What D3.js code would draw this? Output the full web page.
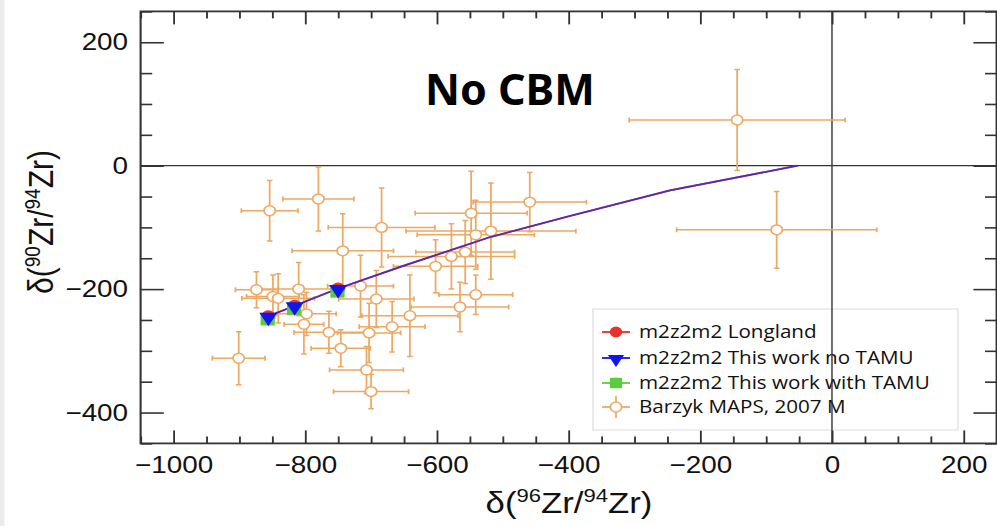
<!DOCTYPE html>
<html>
<head>
<meta charset="utf-8">
<script src="https://cdn.jsdelivr.net/npm/d3@7"></script>
<style>
  html, body { margin: 0; padding: 0; background: #fff; }
  svg { display: block; }
  .tick text { font-family: "Liberation Sans", Arial, sans-serif; font-size: 24px; fill: #111; }
  .legend text { font-family: "Open Sans", sans-serif; font-size: 17.8px; fill: #111; }
</style>
</head>
<body>
<svg id="chart" width="997" height="526"></svg>
<script>
// Barzyk MAPS 2007 grains
const barzykX    = [-854, -780, -684, -459, -548, -518, -541, -743, -578, -557, -602, -541, -565, -641, -668,
                    -692, -703, -716, -810, -874, -849, -841, -901, -764, -802, -798, -746, -707, -700, -144, -84]
const barzykY    = [-73, -54, -100, -59, -77, -106, -112, -138, -147, -140, -163, -209, -229, -243, -261,
                    -216, -271, -195, -200, -201, -212, -215, -312, -270, -257, -240, -296, -331, -366, 74, -104]
const barzykXErr = [43, 54, 81, 86, 85, 129, 89, 77, 96, 75, 64, 56, 74, 73, 50,
                    57, 48, 50, 58, 32, 40, 55, 40, 53, 30, 45, 45, 56, 57, 164, 152]
const barzykYErr = [49, 52, 64, 48, 68, 78, 56, 60, 53, 51, 43, 32, 40, 66, 41,
                    46, 48, 50, 43, 29, 35, 40, 43, 34, 48, 35, 30, 38, 28, 82, 62]

// m2z2m2 model points
const modelX     = [-856, -816, -750]
const longlandY  = [-244, -227, -199]
const noTamuY    = [-244, -227, -199]
const withTamuX  = [-857, -817, -751]
const withTamuY  = [-249, -232, -204]

// model curve
const curveX = [-856, -816, -750, -650, -520, -400, -246, -52]
const curveY = [-244, -227, -199, -162, -116, -82, -40, 0]

const xTicks = [-1000, -800, -600, -400, -200, 0, 200]
const yTicks = [-400, -200, 0, 200]

const legendLabels = ["m2z2m2 Longland", "m2z2m2 This work no TAMU", "m2z2m2 This work with TAMU", "Barzyk MAPS, 2007 M"]

const SX = 1.16   // the figure is stretched horizontally
const orange = '#eea862'
const red = '#e8322b'
const blue = '#1414f0'
const green = '#5ccd3a'
const axisColor = '#333'

const svg = d3.select('#chart')

// grey strip on the left edge
svg.append('rect').attr('x', 0).attr('y', 0).attr('width', 4.5).attr('height', 526).attr('fill', '#ebebeb')

const g = svg.append('g').attr('transform', `scale(${SX},1)`)

const x = d3.scaleLinear().domain([-1050, 250]).range([140.6 / SX, 996.6 / SX])
const y = d3.scaleLinear().domain([-450, 250]).range([443.4, 11.4])

const [x0, x1] = x.range()
const [y0, y1] = [y(250), y(-450)]

const minorX = d3.range(-1050, 251, 50).filter(v => !xTicks.includes(v))
const minorY = d3.range(-450, 251, 50).filter(v => !yTicks.includes(v))

// axes: major + minor ticks, all inward
const axG = g.append('g')
axG.append('g').attr('transform', `translate(0,${y1})`)
  .call(d3.axisBottom(x).tickValues(xTicks).tickSizeInner(-13).tickSizeOuter(0).tickPadding(12.6)
    .tickFormat(d => d3.format('d')(d).replace('-', '\u2212')))
axG.append('g').attr('transform', `translate(0,${y1})`)
  .call(d3.axisBottom(x).tickValues(minorX).tickSizeInner(-7).tickSizeOuter(0).tickFormat(''))
axG.append('g').attr('transform', `translate(0,${y0})`)
  .call(d3.axisTop(x).tickValues(xTicks).tickSizeInner(-13).tickSizeOuter(0).tickFormat(''))
axG.append('g').attr('transform', `translate(0,${y0})`)
  .call(d3.axisTop(x).tickValues(minorX).tickSizeInner(-7).tickSizeOuter(0).tickFormat(''))
axG.append('g').attr('transform', `translate(${x0},0)`)
  .call(d3.axisLeft(y).tickValues(yTicks).tickSizeInner(-20).tickSizeOuter(0).tickPadding(10.8)
    .tickFormat(d => d3.format('d')(d).replace('-', '\u2212')))
axG.append('g').attr('transform', `translate(${x0},0)`)
  .call(d3.axisLeft(y).tickValues(minorY).tickSizeInner(-10).tickSizeOuter(0).tickFormat(''))
axG.append('g').attr('transform', `translate(${x1},0)`)
  .call(d3.axisRight(y).tickValues(yTicks).tickSizeInner(-20).tickSizeOuter(0).tickFormat(''))
axG.append('g').attr('transform', `translate(${x1},0)`)
  .call(d3.axisRight(y).tickValues(minorY).tickSizeInner(-10).tickSizeOuter(0).tickFormat(''))

axG.selectAll('.domain').remove()
axG.selectAll('.tick line').attr('stroke', axisColor).attr('stroke-width', 1.6)

// legend box (drawn before zero lines, the x=0 line shows through it)
const legend = g.append('g').attr('class', 'legend')
legend.append('rect')
  .attr('x', 593 / SX).attr('y', 309).attr('width', (958 - 593) / SX).attr('height', 121)
  .attr('fill', '#fff').attr('stroke', '#dcdcdc').attr('stroke-width', 1)

// zero lines
g.append('line').attr('x1', x(0)).attr('x2', x(0)).attr('y1', y0).attr('y2', y1)
  .attr('stroke', axisColor).attr('stroke-width', 1.2)
g.append('line').attr('x1', x0).attr('x2', x1).attr('y1', y(0)).attr('y2', y(0))
  .attr('stroke', axisColor).attr('stroke-width', 1.2)

// frame
g.append('rect').attr('x', x0).attr('y', y0).attr('width', x1 - x0).attr('height', y1 - y0)
  .attr('fill', 'none').attr('stroke', axisColor).attr('stroke-width', 1.8)

// Barzyk data with error bars
const barzyk = barzykX.map((v, i) => ({x: v, y: barzykY[i], ex: barzykXErr[i], ey: barzykYErr[i]}))
const cap = 2.4
const eb = g.append('g').attr('stroke', orange).attr('stroke-width', 1.5).attr('fill', 'none')
const ebG = eb.selectAll('g').data(barzyk).join('g')
ebG.append('path').attr('d', d => {
  const cx = x(d.x), cy = y(d.y)
  const xl = x(d.x - d.ex), xr = x(d.x + d.ex), yt = y(d.y + d.ey), yb = y(d.y - d.ey)
  return `M${xl},${cy}H${xr}M${cx},${yt}V${yb}` +
    `M${xl},${cy - cap}V${cy + cap}M${xr},${cy - cap}V${cy + cap}` +
    `M${cx - cap},${yt}H${cx + cap}M${cx - cap},${yb}H${cx + cap}`
})
g.append('g').selectAll('circle').data(barzyk).join('circle')
  .attr('cx', d => x(d.x)).attr('cy', d => y(d.y)).attr('r', 4.9)
  .attr('fill', '#fff').attr('stroke', orange).attr('stroke-width', 1.5)

// model curve (red under blue gives the blue-violet look)
const line = d3.line().x(d => x(d[0])).y(d => y(d[1]))
const curve = curveX.map((v, i) => [v, curveY[i]])
g.append('path').attr('d', line(curve)).attr('fill', 'none').attr('stroke', red).attr('stroke-width', 1.8)
g.append('path').attr('d', line(curve)).attr('fill', 'none').attr('stroke', '#2a2ad8').attr('stroke-width', 1.7).attr('opacity', 0.82)

// markers
const squareSym = d3.symbol(d3.symbolSquare, 150)
const triSym = d3.symbol(d3.symbolTriangle, 105)
g.append('g').selectAll('circle').data(modelX.map((v, i) => [v, longlandY[i]])).join('circle')
  .attr('cx', d => x(d[0])).attr('cy', d => y(d[1])).attr('r', 6).attr('fill', red)
g.append('g').selectAll('path').data(withTamuX.map((v, i) => [v, withTamuY[i]])).join('path')
  .attr('d', squareSym).attr('transform', d => `translate(${x(d[0])},${y(d[1])})`).attr('fill', green)
g.append('g').selectAll('path').data(modelX.map((v, i) => [v, noTamuY[i]])).join('path')
  .attr('d', triSym).attr('transform', d => `translate(${x(d[0])},${y(d[1]) + 1}) rotate(180)`).attr('fill', blue)

// legend entries
const legRows = [332, 358, 383, 407]
const lx0 = 602 / SX, lx1 = 630 / SX, lxm = 616 / SX
const colors = [red, blue, green, orange]
legRows.forEach((ry, i) => {
  legend.append('line').attr('x1', lx0).attr('x2', lx1).attr('y1', ry).attr('y2', ry)
    .attr('stroke', colors[i]).attr('stroke-width', 1.8)
  if (i === 0) legend.append('circle').attr('cx', lxm).attr('cy', ry).attr('r', 5.4).attr('fill', red)
  if (i === 1) legend.append('path').attr('d', d3.symbol(d3.symbolTriangle, 85)).attr('transform', `translate(${lxm},${ry + 1}) rotate(180)`).attr('fill', blue)
  if (i === 2) legend.append('path').attr('d', d3.symbol(d3.symbolSquare, 110)).attr('transform', `translate(${lxm},${ry})`).attr('fill', green)
  if (i === 3) {
    legend.append('line').attr('x1', lxm).attr('x2', lxm).attr('y1', ry - 11).attr('y2', ry + 11)
      .attr('stroke', orange).attr('stroke-width', 1.5)
    legend.append('circle').attr('cx', lxm).attr('cy', ry).attr('r', 4.9)
      .attr('fill', '#fff').attr('stroke', orange).attr('stroke-width', 1.5)
  }
  legend.append('text').attr('x', 639 / SX).attr('y', ry).attr('dy', '0.35em').text(legendLabels[i])
})

// axis titles
const titleFont = '"Liberation Sans", Arial, sans-serif'
const xt = g.append('text').attr('x', 569 / SX).attr('y', 513).attr('text-anchor', 'middle')
  .style('font-family', titleFont).style('font-size', '30px').attr('fill', '#111')
xt.append('tspan').text('\u03b4(')
xt.append('tspan').attr('dy', -11).style('font-size', '19px').text('96')
xt.append('tspan').attr('dy', 11).text('Zr/')
xt.append('tspan').attr('dy', -11).style('font-size', '19px').text('94')
xt.append('tspan').attr('dy', 11).text('Zr)')

const yt = g.append('text').attr('transform', `translate(${53 / SX},222) rotate(-90)`).attr('text-anchor', 'middle')
  .style('font-family', titleFont).style('font-size', '30px').attr('fill', '#111')
yt.append('tspan').text('\u03b4(')
yt.append('tspan').attr('dy', -11).style('font-size', '19px').text('90')
yt.append('tspan').attr('dy', 11).text('Zr/')
yt.append('tspan').attr('dy', -11).style('font-size', '19px').text('94')
yt.append('tspan').attr('dy', 11).text('Zr)')

// overlay title (not stretched)
svg.append('text').attr('x', 425).attr('y', 105)
  .style('font-family', '"Noto Sans", sans-serif').style('font-weight', 'bold').style('font-size', '43px')
  .attr('fill', '#000').text('No CBM')
</script>
</body>
</html>
